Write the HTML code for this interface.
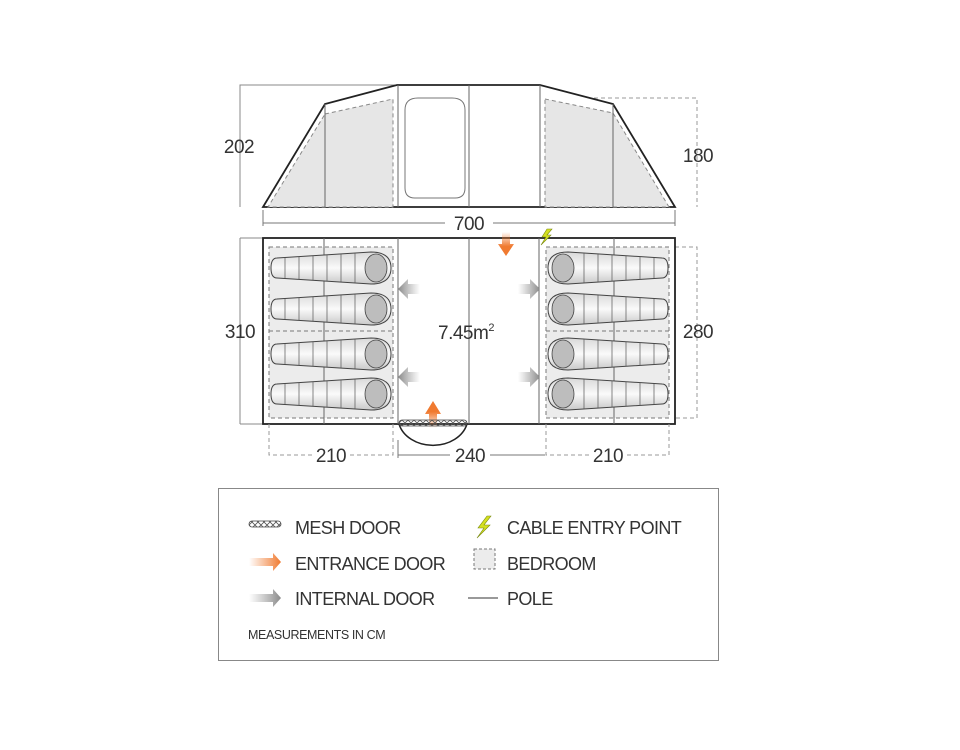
<!DOCTYPE html>
<html><head><meta charset="utf-8"><style>
html,body{margin:0;padding:0;background:#fff;}
svg{display:block;font-family:"Liberation Sans",sans-serif;}
</style></head><body>
<svg width="960" height="750" viewBox="0 0 960 750" xmlns="http://www.w3.org/2000/svg">
<defs>
<linearGradient id="bg" x1="0" y1="0" x2="0" y2="1">
<stop offset="0" stop-color="#d8d8d8"/><stop offset="0.5" stop-color="#fafafa"/><stop offset="1" stop-color="#c8c8c8"/></linearGradient>
<linearGradient id="og" x1="0" y1="0" x2="1" y2="0"><stop offset="0" stop-color="#f07a30" stop-opacity="0"/><stop offset="1" stop-color="#f07a30"/></linearGradient>
<linearGradient id="ogv" x1="0" y1="1" x2="0" y2="0"><stop offset="0" stop-color="#f07a30" stop-opacity="0"/><stop offset="0.6" stop-color="#f07a30"/></linearGradient>
<linearGradient id="ogd" x1="0" y1="0" x2="0" y2="1"><stop offset="0" stop-color="#f07a30" stop-opacity="0"/><stop offset="0.6" stop-color="#f07a30"/></linearGradient>
<linearGradient id="gg" x1="0" y1="0" x2="1" y2="0"><stop offset="0" stop-color="#999" stop-opacity="0"/><stop offset="1" stop-color="#8a8a8a"/></linearGradient>
<linearGradient id="ggl" x1="1" y1="0" x2="0" y2="0"><stop offset="0" stop-color="#999" stop-opacity="0"/><stop offset="1" stop-color="#8a8a8a"/></linearGradient>
<pattern id="mesh" width="6" height="6" patternUnits="userSpaceOnUse"><path d="M0,0 L6,6 M6,0 L0,6" stroke="#555" stroke-width="0.8"/></pattern>
<g id="bag">
<path d="M6,-10 L100,-16 Q120,-16 120,0 Q120,16 100,16 L6,10 Q0,10 0,0 Q0,-10 6,-10 Z" fill="url(#bg)" stroke="#444" stroke-width="1"/>
<g stroke="#555" stroke-width="0.7">
<line x1="14" y1="-10.5" x2="14" y2="10.5"/><line x1="28" y1="-11.5" x2="28" y2="11.5"/><line x1="42" y1="-12.3" x2="42" y2="12.3"/><line x1="56" y1="-13.2" x2="56" y2="13.2"/><line x1="70" y1="-14" x2="70" y2="14"/><line x1="84" y1="-15" x2="84" y2="15"/></g>
<ellipse cx="105" cy="0" rx="11" ry="14" fill="#bdbdbd" stroke="#444" stroke-width="0.8"/>
</g>
</defs>

<!-- elevation -->
<g stroke="#888" stroke-width="1" fill="none">
<polyline points="397,85 240,85 240,207"/>
</g>
<path d="M545,98 H697 V207" fill="none" stroke="#999" stroke-dasharray="4,3"/>
<path d="M263,207 L325,104 L397,85 L540,85 L613,104 L675,207 Z" fill="#fff" stroke="#222" stroke-width="1.8"/>
<path d="M325,114 L393,99 V207 H268 Z" fill="#e6e6e6" stroke="#888" stroke-dasharray="4,3"/>
<path d="M545,99 L613,113 L669,207 H545 Z" fill="#e6e6e6" stroke="#888" stroke-dasharray="4,3"/>
<g stroke="#666" stroke-width="1"><line x1="325" y1="104" x2="325" y2="207"/><line x1="398" y1="85" x2="398" y2="207"/><line x1="469" y1="85" x2="469" y2="207"/><line x1="540" y1="85" x2="540" y2="207"/><line x1="613" y1="104" x2="613" y2="207"/></g>
<path d="M405,110 Q405,98 418,98 H452 Q465,98 465,110 V188 Q465,198 455,198 H415 Q405,198 405,188 Z" fill="#fff" stroke="#777"/>
<text x="239" y="153" font-size="19" fill="#333" text-anchor="middle" letter-spacing="-0.5">202</text>
<text x="698" y="162" font-size="19" fill="#333" text-anchor="middle" letter-spacing="-0.5">180</text>
<!-- 700 -->
<g stroke="#777"><line x1="263" y1="210" x2="263" y2="226"/><line x1="675" y1="210" x2="675" y2="226"/><line x1="263" y1="223" x2="445" y2="223"/><line x1="493" y1="223" x2="675" y2="223"/></g>
<text x="469" y="230" font-size="19" fill="#333" text-anchor="middle" letter-spacing="-0.5">700</text>

<!-- floor plan -->
<line x1="240" y1="238" x2="240" y2="424" stroke="#888"/>
<line x1="240" y1="238" x2="263" y2="238" stroke="#888"/>
<line x1="240" y1="424" x2="263" y2="424" stroke="#888"/>
<path d="M675,247 H697 V418 H675" fill="none" stroke="#999" stroke-dasharray="4,3"/>
<rect x="263" y="238" width="412" height="186" fill="#fff" stroke="#222" stroke-width="1.8"/>
<rect x="269" y="247" width="124" height="171" fill="#ececec" stroke="#777" stroke-dasharray="4,3"/>
<rect x="546" y="247" width="123" height="171" fill="#ececec" stroke="#777" stroke-dasharray="4,3"/>
<line x1="269" y1="331" x2="393" y2="331" stroke="#777" stroke-dasharray="4,3"/>
<line x1="546" y1="331" x2="669" y2="331" stroke="#777" stroke-dasharray="4,3"/>
<g stroke="#666"><line x1="324" y1="238" x2="324" y2="424"/><line x1="398" y1="238" x2="398" y2="424"/><line x1="469" y1="238" x2="469" y2="424"/><line x1="539" y1="238" x2="539" y2="424"/><line x1="614" y1="238" x2="614" y2="424"/></g>
<use href="#bag" transform="translate(271,268)"/>
<use href="#bag" transform="translate(271,309)"/>
<use href="#bag" transform="translate(271,354)"/>
<use href="#bag" transform="translate(271,394)"/>
<use href="#bag" transform="translate(668,268) scale(-1,1)"/>
<use href="#bag" transform="translate(668,309) scale(-1,1)"/>
<use href="#bag" transform="translate(668,354) scale(-1,1)"/>
<use href="#bag" transform="translate(668,394) scale(-1,1)"/>
<!-- internal arrows -->
<path d="M420,284 H408 V279 L398,289 L408,299 V294 H420 Z" fill="url(#ggl)"/>
<path d="M420,372 H408 V367 L398,377 L408,387 V382 H420 Z" fill="url(#ggl)"/>
<path d="M518,284 H530 V279 L540,289 L530,299 V294 H518 Z" fill="url(#gg)"/>
<path d="M518,372 H530 V367 L540,377 L530,387 V382 H518 Z" fill="url(#gg)"/>
<!-- orange arrows -->
<path d="M502,232 V244 H498 L506,256 L514,244 H510 V232 Z" fill="url(#ogd)"/>
<path d="M429,428 V414 H425 L433,401 L441,414 H437 V428 Z" fill="url(#ogv)"/>
<!-- mesh door -->
<path d="M399,424 A35,28 0 0 0 467,424" fill="none" stroke="#222" stroke-width="1.5"/>
<rect x="399" y="420" width="68" height="6" rx="3" fill="url(#mesh)" stroke="#444" stroke-width="0.8"/>
<!-- lightning -->
<path d="M547,229 L542,237 H546 L541,245 L551,235 H547 L552,229 Z" fill="#d4e020" stroke="#7a8a10" stroke-width="0.6"/>
<text x="438" y="339" font-size="19" fill="#333" letter-spacing="-0.5">7.45m<tspan font-size="11" dy="-8">2</tspan></text>
<text x="240" y="338" font-size="19" fill="#333" text-anchor="middle" letter-spacing="-0.5">310</text>
<text x="698" y="338" font-size="19" fill="#333" text-anchor="middle" letter-spacing="-0.5">280</text>
<!-- bottom dims -->
<g stroke="#999" stroke-dasharray="4,3" fill="none">
<path d="M269,424 V455 H312"/><path d="M350,455 H393 V424"/>
<path d="M546,424 V455 H589"/><path d="M627,455 H669 V424"/>
</g>
<g stroke="#777"><line x1="398" y1="455" x2="450" y2="455"/><line x1="490" y1="455" x2="545" y2="455"/><line x1="398" y1="440" x2="398" y2="458"/></g>
<text x="331" y="462" font-size="19" fill="#333" text-anchor="middle" letter-spacing="-0.5">210</text>
<text x="470" y="462" font-size="19" fill="#333" text-anchor="middle" letter-spacing="-0.5">240</text>
<text x="608" y="462" font-size="19" fill="#333" text-anchor="middle" letter-spacing="-0.5">210</text>

<!-- legend -->
<rect x="218.5" y="488.5" width="500" height="172" fill="#fff" stroke="#888"/>
<rect x="249" y="521" width="32" height="6" rx="3" fill="url(#mesh)" stroke="#444" stroke-width="0.8"/>
<path d="M249,558 H273 V553 L281,562 L273,571 V566 H249 Z" fill="url(#og)"/>
<path d="M249,594 H273 V589 L281,598 L273,607 V602 H249 Z" fill="url(#gg)"/>
<path d="M487,516 L478,528 H484 L477,538 L490,525 H484 L491,516 Z" fill="#d4e020" stroke="#7a8a10" stroke-width="0.6"/>
<rect x="474" y="549" width="21" height="20" fill="#ececec" stroke="#777" stroke-dasharray="3,2"/>
<line x1="468" y1="598" x2="498" y2="598" stroke="#333"/>
<g font-size="18" fill="#333" letter-spacing="-0.6">
<text x="295" y="534">MESH DOOR</text>
<text x="295" y="570">ENTRANCE DOOR</text>
<text x="295" y="605">INTERNAL DOOR</text>
<text x="507" y="534">CABLE ENTRY POINT</text>
<text x="507" y="570">BEDROOM</text>
<text x="507" y="605">POLE</text>
</g>
<text x="248" y="639" font-size="12.5" fill="#333" letter-spacing="-0.4">MEASUREMENTS IN CM</text>
</svg>
</body></html>
